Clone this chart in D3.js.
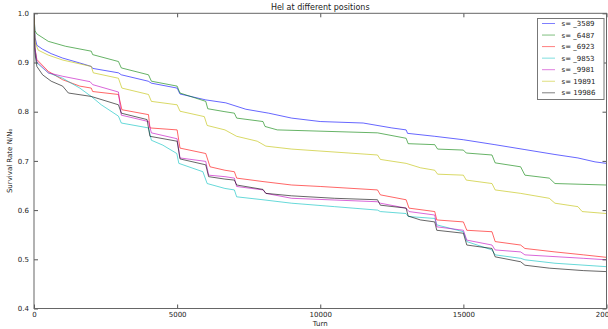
<!DOCTYPE html>
<html><head><meta charset="utf-8">
<script src="https://cdn.jsdelivr.net/npm/d3@7"></script>
<style>body{margin:0;background:#fff;overflow:hidden}svg{display:block;font-family:"DejaVu Sans",sans-serif}</style>
</head><body><svg id="c" width="608" height="329"></svg>
<script>
const title = "Hel at different positions";
const xLabel = "Turn";
const yLabel = "Survival Rate N/N₀";
const xTicks = [0, 5000, 10000, 15000, 20000];
const yTicks = [0.4, 0.5, 0.6, 0.7, 0.8, 0.9, 1.0];
const seriesNames = ["s= _3589", "s= _6487", "s= _6923", "s= _9853", "s= _9981", "s= 19891", "s= 19986"];
const seriesColors = ["#0000ff", "#008000", "#ff0000", "#00bfbf", "#bf00bf", "#bfbf00", "#000000"];

const s3589 = [[0,1.0],[40,0.95],[100,0.935],[300,0.927],[600,0.918],[1000,0.909],[1600,0.899],[2000,0.892],[2050,0.888],[2950,0.879],[3050,0.875],[3990,0.862],[4100,0.858],[5000,0.848],[5100,0.836],[6000,0.824],[6700,0.818],[7400,0.805],[8200,0.797],[9000,0.787],[10000,0.780],[11500,0.777],[12500,0.767],[13000,0.763],[13050,0.756],[14000,0.750],[15000,0.743],[16100,0.733],[17150,0.723],[18200,0.713],[19000,0.706],[19600,0.698],[20000,0.695]];
const s6487 = [[0,1.0],[30,0.965],[100,0.958],[500,0.943],[1100,0.933],[2000,0.923],[2050,0.916],[2950,0.902],[3050,0.889],[4000,0.875],[4100,0.862],[5000,0.852],[5100,0.838],[6000,0.821],[6070,0.806],[6670,0.800],[7000,0.797],[7080,0.787],[8000,0.780],[8070,0.770],[8500,0.763],[12000,0.757],[13000,0.746],[13070,0.735],[14000,0.733],[14100,0.724],[15000,0.722],[15100,0.716],[16000,0.712],[16110,0.696],[17000,0.688],[17150,0.671],[18000,0.665],[18200,0.654],[20000,0.651]];
const s6923 = [[0,1.0],[30,0.93],[100,0.906],[500,0.882],[1000,0.865],[1600,0.852],[2000,0.848],[2050,0.841],[2950,0.835],[3070,0.804],[4000,0.794],[4050,0.767],[5000,0.763],[5100,0.726],[6000,0.715],[6150,0.688],[6670,0.681],[7000,0.678],[7080,0.665],[8000,0.658],[9000,0.651],[10000,0.648],[12000,0.641],[12100,0.631],[13000,0.621],[13100,0.604],[14000,0.597],[14070,0.58],[15000,0.576],[15120,0.559],[16000,0.556],[16110,0.536],[17000,0.529],[17150,0.522],[18200,0.515],[19200,0.509],[20000,0.504]];
const s9853 = [[0,1.0],[30,0.93],[100,0.899],[500,0.879],[1000,0.868],[1600,0.848],[2000,0.831],[2350,0.814],[2950,0.791],[3050,0.777],[4000,0.767],[4100,0.742],[4500,0.732],[4990,0.715],[5060,0.695],[5900,0.678],[6050,0.654],[6670,0.644],[7000,0.641],[7080,0.627],[8000,0.621],[9000,0.614],[10500,0.607],[12000,0.600],[12100,0.597],[13000,0.593],[13070,0.587],[14000,0.583],[14070,0.570],[15000,0.556],[15120,0.536],[16000,0.519],[16110,0.509],[17000,0.502],[17150,0.499],[18200,0.492],[20000,0.485]];
const s9981 = [[0,1.0],[30,0.93],[100,0.902],[500,0.879],[1000,0.872],[1960,0.861],[2050,0.855],[2950,0.840],[3050,0.793],[4000,0.780],[4100,0.757],[5000,0.745],[5100,0.706],[6000,0.699],[6100,0.671],[6670,0.668],[7000,0.665],[7080,0.648],[8000,0.641],[8100,0.634],[9000,0.624],[12000,0.617],[12100,0.614],[13000,0.604],[13100,0.597],[14000,0.590],[14070,0.566],[15000,0.559],[15120,0.539],[16000,0.529],[16110,0.519],[17000,0.515],[17150,0.509],[19200,0.502],[20000,0.499]];
const s19891 = [[0,1.0],[40,0.94],[150,0.925],[500,0.915],[1000,0.905],[2000,0.892],[2070,0.879],[2950,0.868],[3070,0.848],[4000,0.835],[4100,0.821],[5000,0.814],[5100,0.801],[5950,0.790],[6050,0.772],[6670,0.763],[7080,0.750],[7800,0.740],[8100,0.730],[9000,0.724],[11000,0.716],[12000,0.712],[12100,0.703],[13000,0.695],[13500,0.686],[14000,0.681],[14100,0.673],[15000,0.671],[15100,0.661],[16000,0.654],[16110,0.641],[17000,0.634],[18000,0.624],[18200,0.614],[19000,0.607],[19150,0.597],[20000,0.593]];
const s19986 = [[0,1.0],[30,0.92],[100,0.892],[300,0.875],[600,0.862],[1000,0.852],[1200,0.838],[2000,0.831],[2950,0.814],[3050,0.797],[3950,0.784],[4050,0.750],[5000,0.740],[5100,0.704],[6000,0.692],[6100,0.668],[6670,0.663],[7000,0.661],[7080,0.651],[8000,0.642],[8100,0.634],[9000,0.629],[10500,0.624],[12000,0.621],[12100,0.610],[13000,0.604],[13070,0.588],[13500,0.580],[14000,0.576],[14070,0.559],[15000,0.553],[15120,0.529],[16000,0.522],[16110,0.505],[17000,0.495],[17150,0.488],[18000,0.482],[19200,0.477],[20000,0.475]];
const seriesData = [s3589, s6487, s6923, s9853, s9981, s19891, s19986];

const svg = d3.select("#c");
const L = 34, R = 606.5, T = 13.3, B = 308.5;
const x = d3.scaleLinear().domain([0, 20000]).range([L, R]);
const y = d3.scaleLinear().domain([0.4, 1.0]).range([B, T]);

svg.append("rect").attr("x", 0).attr("y", 0).attr("width", 608).attr("height", 329).attr("fill", "#fff");

// lines
svg.append("defs").append("clipPath").attr("id", "pc").append("rect")
  .attr("x", L).attr("y", T).attr("width", R - L).attr("height", B - T);
const line = d3.line().x(d => x(d[0])).y(d => y(d[1]));
const g = svg.append("g").attr("clip-path", "url(#pc)");
seriesData.forEach((d, i) => {
  g.append("path").datum(d).attr("d", line).attr("fill", "none")
    .attr("stroke", seriesColors[i]).attr("stroke-width", 1).attr("stroke-opacity", 0.6);
});

// axes (ticks inside)
const fs = 7;
const axB = svg.append("g").attr("transform", `translate(0,${B})`)
  .call(d3.axisBottom(x).tickValues(xTicks).tickFormat(d3.format("d")).tickSizeInner(-4).tickSizeOuter(0).tickPadding(4));
const axT = svg.append("g").attr("transform", `translate(0,${T})`)
  .call(d3.axisTop(x).tickValues(xTicks).tickFormat("").tickSizeInner(-4).tickSizeOuter(0));
const axL = svg.append("g").attr("transform", `translate(${L},0)`)
  .call(d3.axisLeft(y).tickValues(yTicks).tickFormat(d3.format(".1f")).tickSizeInner(-4).tickSizeOuter(0).tickPadding(5));
const axR = svg.append("g").attr("transform", `translate(${R},0)`)
  .call(d3.axisRight(y).tickValues(yTicks).tickFormat("").tickSizeInner(-4).tickSizeOuter(0));
[axB, axT, axL, axR].forEach(a => {
  a.select(".domain").remove();
  a.selectAll("line").attr("stroke", "#555");
  a.selectAll("text").attr("font-size", fs).attr("fill", "#222").attr("font-family", "DejaVu Sans");
});
svg.append("rect").attr("x", L).attr("y", T).attr("width", R - L).attr("height", B - T)
  .attr("fill", "none").attr("stroke", "#666").attr("stroke-width", 1);

// labels
svg.append("text").attr("x", (L + R) / 2).attr("y", 10).attr("text-anchor", "middle")
  .attr("font-size", 8).attr("fill", "#222").text(title);
svg.append("text").attr("x", (L + R) / 2).attr("y", 326).attr("text-anchor", "middle")
  .attr("font-size", 7).attr("fill", "#222").text(xLabel);
svg.append("text").attr("transform", `translate(12,${(T + B) / 2}) rotate(-90)`).attr("text-anchor", "middle")
  .attr("font-size", 7).attr("fill", "#222").text(yLabel);

// legend
const lg = svg.append("g");
lg.append("rect").attr("x", 537.5).attr("y", 18.5).attr("width", 66.5).attr("height", 81)
  .attr("fill", "#fff").attr("stroke", "#777").attr("stroke-width", 1);
seriesNames.forEach((n, i) => {
  const yy = 23.5 + i * 11.55;
  lg.append("line").attr("x1", 542).attr("x2", 555).attr("y1", yy).attr("y2", yy)
    .attr("stroke", seriesColors[i]).attr("stroke-opacity", 0.5).attr("stroke-width", 1);
  lg.append("text").attr("x", 561.5).attr("y", yy + 2.5).attr("font-size", 7).attr("fill", "#222").text(n);
});
</script></body></html>
